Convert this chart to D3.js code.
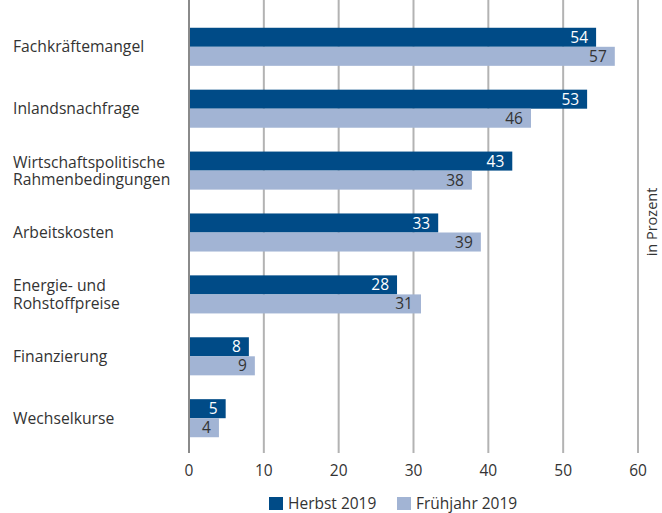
<!DOCTYPE html>
<html><head><meta charset="utf-8">
<script src="https://cdn.jsdelivr.net/npm/d3@7"></script>
<style>body{margin:0;background:#fff}svg{display:block}text{font-family:"Open Sans",sans-serif}</style>
</head><body><svg id="c" width="662" height="513"></svg>
<script>
const categories = ["Fachkräftemangel","Inlandsnachfrage","Wirtschaftspolitische\nRahmenbedingungen","Arbeitskosten","Energie- und\nRohstoffpreise","Finanzierung","Wechselkurse"];
const herbst2019 = [54.4, 53.2, 43.2, 33.3, 27.8, 8.0, 4.9];
const fruehjahr2019 = [56.9, 45.7, 37.8, 39.0, 31.0, 8.8, 4.0];
const seriesNames = ["Herbst 2019","Frühjahr 2019"];
const xTicks = [0,10,20,30,40,50,60];
const colors = ["#004b87","#a2b4d4"];
const labelColors = ["#ffffff","#333333"];

const svg = d3.select("#c");
const x = d3.scaleLinear().domain([0,60]).range([189,638]);
const y = d3.scaleBand().domain(categories).range([16,449]).paddingInner(0.385).paddingOuter(0.19);
const ys = d3.scaleBand().domain([0,1]).range([0,y.bandwidth()]);

// grid
svg.append("g").selectAll("line").data(xTicks).join("line")
  .attr("x1",d=>x(d)).attr("x2",d=>x(d)).attr("y1",0).attr("y2",453)
  .attr("stroke","#b3b3b3").attr("stroke-width",2);

const data = categories.map((c,i)=>({c, v:[herbst2019[i], fruehjahr2019[i]]}));
const g = svg.append("g").selectAll("g").data(data).join("g").attr("transform",d=>`translate(0,${y(d.c)})`);
[0,1].forEach(s=>{
  g.append("rect").attr("x",x(0)).attr("y",ys(s)).attr("width",d=>x(d.v[s])-x(0)).attr("height",ys.bandwidth()).attr("fill",colors[s]);
  g.append("text").attr("x",d=>x(d.v[s])-8).attr("y",ys(s)+ys.bandwidth()/2).attr("dy","0.36em")
   .attr("text-anchor","end").attr("font-size",15.5).attr("fill",labelColors[s]).text(d=>Math.round(d.v[s]));
});
// zero line
svg.append("line").attr("x1",x(0)).attr("x2",x(0)).attr("y1",0).attr("y2",453).attr("stroke","#8a8a8a").attr("stroke-width",2);

// category labels
svg.append("g").selectAll("text").data(categories).join("text")
  .attr("font-size",15.7).attr("fill","#333")
  .each(function(d){
    const lines = d.split("\n"); const t = d3.select(this);
    const cy = y(d)+y.bandwidth()/2; const lh = 17.5;
    lines.forEach((l,i)=>t.append("tspan").attr("x",13).attr("y",cy+(i-(lines.length-1)/2)*lh).attr("dy","0.36em").text(l));
  });

// x axis labels
svg.append("g").selectAll("text").data(xTicks).join("text")
  .attr("x",d=>x(d)).attr("y",470).attr("dy","0.36em").attr("text-anchor","middle").attr("font-size",15.5).attr("fill","#333").text(d=>d);

// unit label
svg.append("text").attr("transform","translate(652,222) rotate(-90)").attr("text-anchor","middle").attr("dy","0.36em")
  .attr("font-size",14.5).attr("fill","#333").text("in Prozent");

// legend
const lx = [269,397];
seriesNames.forEach((n,i)=>{
  svg.append("rect").attr("x",lx[i]).attr("y",497).attr("width",14).attr("height",13).attr("fill",colors[i]);
  svg.append("text").attr("x",lx[i]+19).attr("y",503.5).attr("dy","0.36em").attr("font-size",15.5).attr("fill","#333").text(n);
});
</script></body></html>
